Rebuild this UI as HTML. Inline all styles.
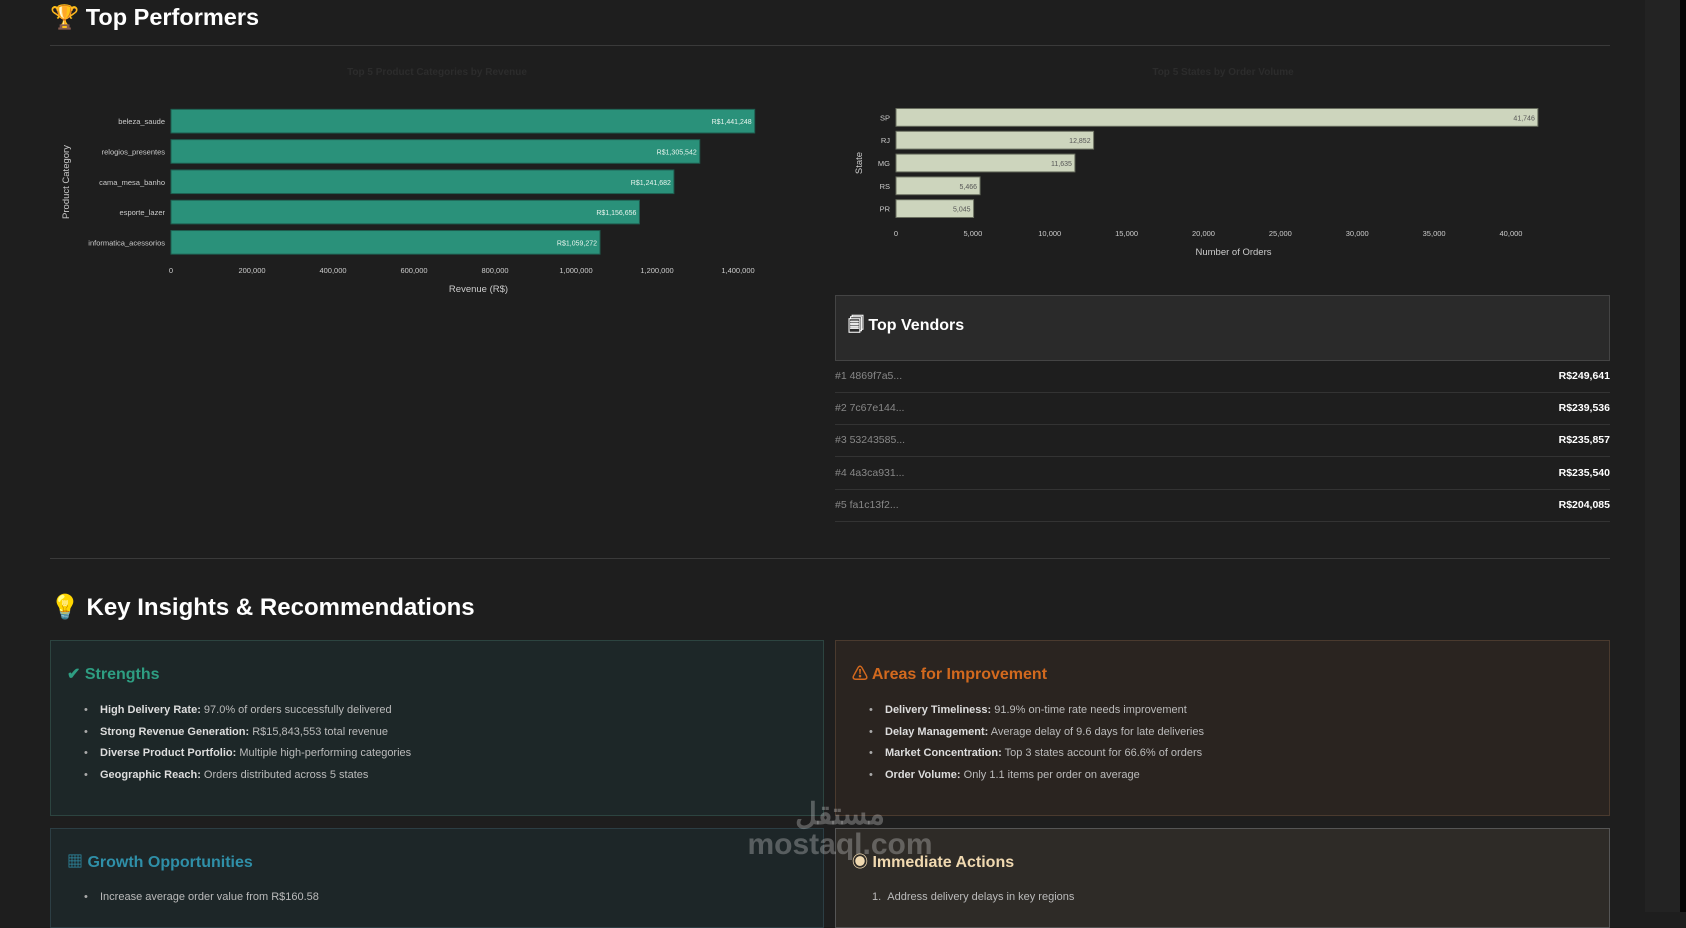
<!DOCTYPE html>
<html><head><meta charset="utf-8">
<style>
body{margin:0;width:1686px;height:912px;overflow:hidden;background:#1e1e1e;font-family:"Liberation Sans","Noto Sans CJK SC",sans-serif;color:#ddd;position:relative}
.abs{position:absolute}
h2{margin:0;font-weight:bold;color:#fff;position:absolute;line-height:1.2}
.hr{position:absolute;left:50px;width:1560px;height:1px;background:#3a3a3a}
.box{position:absolute;box-sizing:border-box;border:1px solid}
.box h3{position:absolute;left:16px;margin:0;font-size:16px;font-weight:bold;line-height:20px;height:20px}
.box ul{position:absolute;left:33px;margin:0;padding:0;font-size:11px;color:#bbb;list-style:none}
.box li{height:21.5px;position:relative;padding-left:16px}
.box li:before{content:"•";position:absolute;left:0;color:#aaa}
.box li b{color:#ddd}
.vrow{position:absolute;left:835px;width:775px;height:32px;border-bottom:1px solid #333;font-size:10.5px}
.vrow span{position:absolute;top:10px}
svg text{font-family:"Liberation Sans",sans-serif}
</style></head><body>
<div class="abs" style="left:1645px;top:0;width:35px;height:912px;background:#232323"></div>
<div class="abs" style="left:1680px;top:0;width:6px;height:912px;background:#050505"></div>

<h2 style="left:50px;top:3px;font-size:23.5px">🏆 Top Performers</h2>
<div class="hr" style="top:45px"></div>

<svg class="abs" style="left:0;top:0" width="1686" height="300">
<g id="c1"></g>
<g id="c2"></g>
</svg>

<div class="box" style="left:835px;top:295px;width:775px;height:66px;background:#2a2a2a;border-color:#444">
<h3 style="top:20px;left:12px;color:#fff">🗐 Top Vendors</h3></div>
<div id="vendors"></div>

<div class="hr" style="top:558px"></div>
<h2 style="left:50px;top:594px;font-size:24px">💡 Key Insights &amp; Recommendations</h2>

<div class="box" style="left:50px;top:640px;width:774px;height:176px;background:#1d2728;border-color:#2c4440">
<h3 style="top:24px;color:#2e9e82">✔ Strengths</h3>
<ul style="top:63px">
<li><b>High Delivery Rate:</b> 97.0% of orders successfully delivered</li>
<li><b>Strong Revenue Generation:</b> R$15,843,553 total revenue</li>
<li><b>Diverse Product Portfolio:</b> Multiple high-performing categories</li>
<li><b>Geographic Reach:</b> Orders distributed across 5 states</li></ul></div>

<div class="box" style="left:835px;top:640px;width:775px;height:176px;background:#2a2420;border-color:#4a3a2e">
<h3 style="top:24px;color:#d2691e">⚠ Areas for Improvement</h3>
<ul style="top:63px">
<li><b>Delivery Timeliness:</b> 91.9% on-time rate needs improvement</li>
<li><b>Delay Management:</b> Average delay of 9.6 days for late deliveries</li>
<li><b>Market Concentration:</b> Top 3 states account for 66.6% of orders</li>
<li><b>Order Volume:</b> Only 1.1 items per order on average</li></ul></div>

<div class="box" style="left:50px;top:828px;width:774px;height:100px;background:#1d2628;border-color:#2c3e44">
<h3 style="top:24px;color:#2f8fa8">▦ Growth Opportunities</h3>
<ul style="top:62px"><li>Increase average order value from R$160.58</li></ul></div>

<div class="box" style="left:835px;top:828px;width:775px;height:100px;background:#2e2b27;border-color:#555">
<h3 style="top:24px;color:#f0d9b0">◉ Immediate Actions</h3>
<div style="position:absolute;left:36px;top:62px;font-size:11px;color:#bbb">1.&nbsp;&nbsp;Address delivery delays in key regions</div></div>

<div class="abs" style="left:740px;top:800px;width:200px;text-align:center;color:rgba(200,200,200,0.35);font-size:30px;font-weight:bold;line-height:30px">مستقل<br>mostaql.com</div>

<script>
const catNames=["beleza_saude","relogios_presentes","cama_mesa_banho","esporte_lazer","informatica_acessorios"];
const catRevenue=[1441248,1305542,1241682,1156656,1059272];
const revTicks=[0,200000,400000,600000,800000,1000000,1200000,1400000];
const states=["SP","RJ","MG","RS","PR"];
const stateOrders=[41746,12852,11635,5466,5045];
const orderTicks=[0,5000,10000,15000,20000,25000,30000,35000,40000];
const vendorIds=["#1 4869f7a5...","#2 7c67e144...","#3 53243585...","#4 4a3ca931...","#5 fa1c13f2..."];
const vendorRevenue=["R$249,641","R$239,536","R$235,857","R$235,540","R$204,085"];

const NS="http://www.w3.org/2000/svg";
function mk(p,t,a,txt){const e=document.createElementNS(NS,t);for(const k in a)e.setAttribute(k,a[k]);if(txt!==undefined)e.textContent=txt;p.appendChild(e);return e;}
const fmt=v=>v.toLocaleString('en-US');

function chart(g,o){
  const sx=v=>o.x0+(v/o.max)*(o.x1-o.x0);
  const sy=i=>o.y0+i*o.band;
  let t=mk(g,'text',{x:o.tx,y:75,'text-anchor':'middle','font-size':10,'font-weight':'bold',fill:'#2c2c2c'},o.title);
  
  
  o.names.forEach((n,i)=>{
    const y=sy(i),h=o.band*o.fill;
    const r=mk(g,'rect',{x:sx(0),y:y+(o.band-h)/2,width:sx(o.vals[i])-sx(0),height:h,fill:o.color,stroke:o.stroke,'stroke-width':1});
    
    
    const l=mk(g,'text',{x:o.x0-6,y:y+o.band/2+3,'text-anchor':'end','font-size':7.5,fill:'#ccc'},n);
    
    
    const v=mk(g,'text',{x:sx(o.vals[i])-3,y:y+o.band/2+3,'text-anchor':'end','font-size':7,fill:o.lab},o.pre+fmt(o.vals[i]));
    
    
  });
  o.ticks.forEach(tk=>{
    const e=mk(g,'text',{x:sx(tk),y:o.tickY,'text-anchor':'middle','font-size':7.5,fill:'#ccc'},fmt(tk));
    
    
  });
  const xa=mk(g,'text',{x:(o.x0+o.x1)/2+o.xaOff,y:o.tickY+19,'text-anchor':'middle','font-size':9.5,fill:'#ccc'},o.xtitle);
  
  
  const ya=mk(g,'text',{x:o.yaX,y:o.yaY,'text-anchor':'middle','font-size':9.5,fill:'#ccc',transform:`rotate(-90 ${o.yaX} ${o.yaY})`},o.ytitle);
  
  
}
chart(document.getElementById('c1'),{names:catNames,vals:catRevenue,ticks:revTicks,max:1400000,x0:171,x1:738,y0:106,band:30.3,fill:0.78,color:'#2a917a',stroke:'#1e5e50',lab:'#e8f5ee',pre:'R$',tickY:273,xtitle:'Revenue (R$)',ytitle:'Product Category',yaX:69,yaY:182,tx:437,title:'Top 5 Product Categories by Revenue',xaOff:24});
chart(document.getElementById('c2'),{names:states,vals:stateOrders,ticks:orderTicks,max:40000,x0:896,x1:1511,y0:106,band:22.8,fill:0.78,color:'#cdd5bd',stroke:'#6a6f60',lab:'#555',pre:'',tickY:236,xtitle:'Number of Orders',ytitle:'State',yaX:862,yaY:163,tx:1223,title:'Top 5 States by Order Volume',xaOff:30});

const vw=document.getElementById('vendors');
vendorIds.forEach((id,i)=>{
  const d=document.createElement('div');d.className='vrow';d.style.top=(360+i*32.2)+'px';
  
  
  d.innerHTML='<span style="left:0;color:#888">'+id+'</span><span style="right:0;color:#fff;font-weight:bold">'+vendorRevenue[i]+'</span>';
  vw.appendChild(d);
});
</script>
</body></html>
